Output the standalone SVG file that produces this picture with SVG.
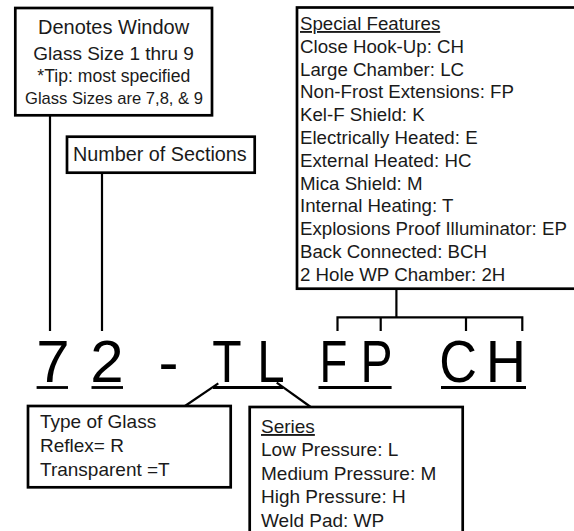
<svg xmlns="http://www.w3.org/2000/svg" width="574" height="531" viewBox="0 0 574 531">
<style>
.box{fill:#fff;stroke:#000;stroke-width:2.7}
.t{font-family:"Liberation Sans",Arial,sans-serif;fill:#1a1a1a}
.big{font-family:"Liberation Sans",Arial,sans-serif;font-size:60px;fill:#000;text-anchor:middle}
.c{fill:none;stroke:#000;stroke-width:2.2}
.ul{stroke:#000;stroke-width:2.8}
.mid{text-anchor:middle}
.f{font-size:18.7px}
.g{font-size:19px}
</style>
<rect width="574" height="531" fill="#fff"/>
<g id="connectors">
<line class="c" x1="50" y1="116" x2="50" y2="331"/>
<line class="c" x1="102" y1="173" x2="102" y2="331"/>
<line class="c" x1="396.4" y1="289" x2="396.4" y2="317.3"/>
<polyline class="c" points="337.5,331 337.5,317.3 522.3,317.3 522.3,331"/>
<line class="c" x1="380.7" y1="317.3" x2="380.7" y2="331"/>
<line class="c" x1="466" y1="317.3" x2="466" y2="331"/>
<line class="c" x1="218.3" y1="383.3" x2="185" y2="406"/>
<line class="c" x1="276.7" y1="382.7" x2="310.7" y2="407"/>
</g>
<g id="node-size">
<rect class="box" x="15.3" y="8" width="196.7" height="107.3"/>
<text class="t mid" x="113.6" y="34.3" font-size="20">Denotes Window</text>
<text class="t mid" x="113.6" y="60" font-size="19">Glass Size 1 thru 9</text>
<text class="t mid" x="113.8" y="81.7" font-size="17.6">*Tip: most specified</text>
<text class="t mid" x="114" y="104" font-size="16.6">Glass Sizes are 7,8, &amp; 9</text>
</g>
<g id="node-sections">
<rect class="box" x="67" y="136.7" width="187.7" height="36"/>
<text class="t" x="73" y="160.5" font-size="19.8">Number of Sections</text>
</g>
<g id="node-features">
<rect class="box" x="297" y="7.5" width="290" height="281.2"/>
<text class="t f" x="300" y="30" text-decoration="underline">Special Features</text>
<text class="t f" x="300" y="52.8">Close Hook-Up: CH</text>
<text class="t f" x="300" y="75.6">Large Chamber: LC</text>
<text class="t f" x="300" y="98.4">Non-Frost Extensions: FP</text>
<text class="t f" x="300" y="121.2">Kel-F Shield: K</text>
<text class="t f" x="300" y="144">Electrically Heated: E</text>
<text class="t f" x="300" y="166.8">External Heated: HC</text>
<text class="t f" x="300" y="189.6">Mica Shield: M</text>
<text class="t f" x="300" y="212.4">Internal Heating: T</text>
<text class="t f" x="300" y="235.2">Explosions Proof Illuminator: EP</text>
<text class="t f" x="300" y="258">Back Connected: BCH</text>
<text class="t f" x="300" y="280.8">2 Hole WP Chamber: 2H</text>
</g>
<g id="code">
<text class="big" x="53" y="381.8">7</text>
<text class="big" x="107" y="381.8">2</text>
<text class="big" x="168.5" y="381.8">-</text>
<text class="big" transform="translate(227,381.8) scale(0.8,1)">T</text>
<text class="big" transform="translate(271,381.8) scale(0.82,1)">L</text>
<text class="big" transform="translate(333.5,381.8) scale(0.76,1)">F</text>
<text class="big" transform="translate(376.5,381.8) scale(0.8,1)">P</text>
<text class="big" transform="translate(458,381.8) scale(0.87,1)">C</text>
<text class="big" transform="translate(506,381.8) scale(0.93,1)">H</text>
<line class="ul" x1="36.6" y1="387.5" x2="68" y2="387.5"/>
<line class="ul" x1="91.5" y1="387.5" x2="123" y2="387.5"/>
<line class="ul" x1="213" y1="387.5" x2="283" y2="387.5"/>
<line class="ul" x1="318.5" y1="387.5" x2="391.6" y2="387.5"/>
<line class="ul" x1="441" y1="387.5" x2="526" y2="387.5"/>
</g>
<g id="node-glass">
<rect class="box" x="28" y="406" width="202.7" height="81.3"/>
<text class="t g" x="40" y="428">Type of Glass</text>
<text class="t g" x="40" y="452">Reflex= R</text>
<text class="t g" x="40" y="476">Transparent =T</text>
</g>
<g id="node-series">
<rect class="box" x="249.7" y="407" width="213" height="140"/>
<text class="t g" x="261" y="433" text-decoration="underline">Series</text>
<text class="t g" x="261" y="456.4">Low Pressure: L</text>
<text class="t g" x="261" y="479.8">Medium Pressure: M</text>
<text class="t g" x="261" y="503.2">High Pressure: H</text>
<text class="t g" x="261" y="526.6">Weld Pad: WP</text>
</g>
</svg>
